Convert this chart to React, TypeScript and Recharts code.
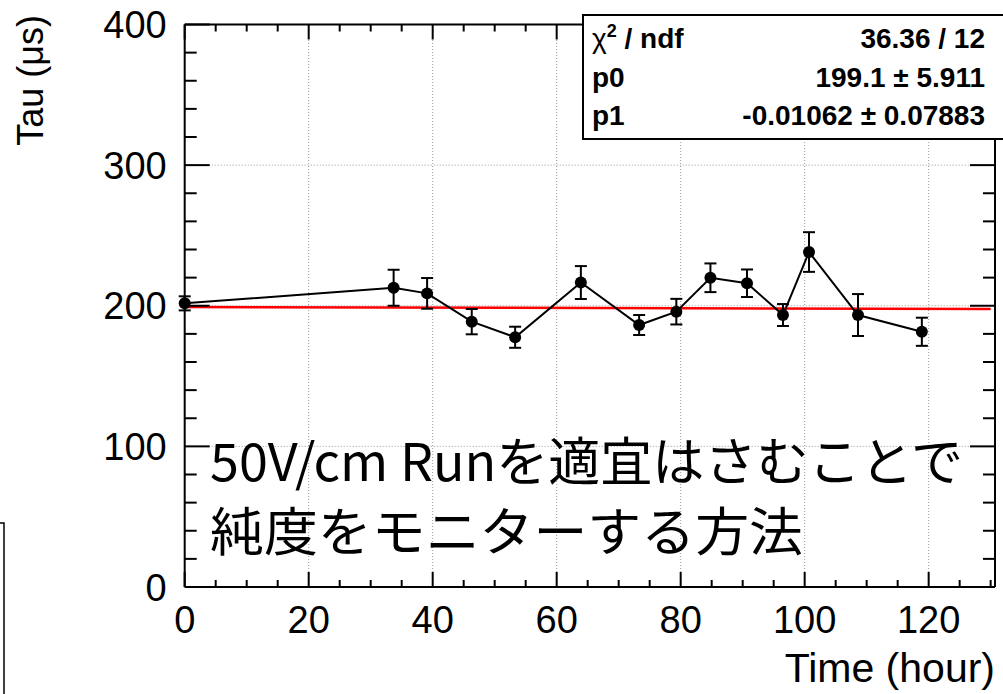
import React from "react";
import {
  ComposedChart,
  Line,
  XAxis,
  YAxis,
  ErrorBar,
  ReferenceLine,
} from "recharts";

// measured points (Time in hours, Tau in microseconds)
const hours = [0, 33.7, 39.1, 46.3, 53.3, 63.9, 73.3, 79.3, 84.8, 90.7, 96.5, 100.7, 108.6, 118.9];
const tauValues = [201.7, 212.8, 208.8, 188.7, 177.6, 216.5, 186.3, 195.8, 219.9, 216.0, 193.4, 238.2, 193.4, 181.5];
const tauErrors = [5, 12.8, 10.9, 9.0, 7.5, 11.7, 7.1, 9.1, 10.2, 9.8, 7.8, 14.1, 14.9, 10.0];

// pol1 fit result
const fitP0 = 199.1;
const fitP1 = -0.01062;
const fitRange = [0, 130];

const xMajorTicks = [0, 20, 40, 60, 80, 100, 120];
const xMinorTicks = [5, 10, 15, 25, 30, 35, 45, 50, 55, 65, 70, 75, 85, 90, 95, 105, 110, 115, 125, 130];
const yMajorTicks = [0, 100, 200, 300, 400];
const yMinorTicks = [20, 40, 60, 80, 120, 140, 160, 180, 220, 240, 260, 280, 320, 340, 360, 380];
const xGrid = [20, 40, 60, 80, 100, 120];
const yGrid = [100, 200, 300];

const statNames = ["χ", "p0", "p1"];
const statValues = ["36.36 / 12", "199.1 ± 5.911", "-0.01062 ± 0.07883"];

const noteLines = ["50V/cm Runを適宜はさむことで", "純度をモニターする方法"];

const data = hours.map((t, i) => ({ t, tau: tauValues[i], err: tauErrors[i] }));

const W = 1003;
const H = 694;
const X_MAX = 130.7;
const Y_MAX = 400;
const FONT = "'Liberation Sans', Arial, Helvetica, sans-serif";

// frame of the pad (page pixels)
const PLOT_LEFT = 184.7;
const PLOT_TOP = 24.5;
const PLOT_RIGHT = 995;
const PLOT_BOTTOM = 587;

// tick anchor points on the four sides of the frame (ROOT ticks point inward)
const bottomTicks = [...xMajorTicks.map((t) => ({ t, tau: 0, len: 15 })), ...xMinorTicks.map((t) => ({ t, tau: 0, len: 7 }))];
const topTicks = [...xMajorTicks.map((t) => ({ t, tau: Y_MAX, len: 15 })), ...xMinorTicks.map((t) => ({ t, tau: Y_MAX, len: 7 }))];
const leftTicks = [...yMajorTicks.map((v) => ({ t: 0, tau: v, len: 25 })), ...yMinorTicks.map((v) => ({ t: 0, tau: v, len: 12 }))];
const rightTicks = [...yMajorTicks.map((v) => ({ t: X_MAX, tau: v, len: 25 })), ...yMinorTicks.map((v) => ({ t: X_MAX, tau: v, len: 12 }))];

const tickDot = (dx: number, dy: number) => (props: any) => {
  const { cx, cy, payload, index } = props;
  const len = payload.len;
  return (
    <line
      key={`td${dx}${dy}${index}`}
      x1={cx}
      y1={cy}
      x2={cx + dx * len}
      y2={cy + dy * len}
      stroke="#000"
      strokeWidth={2}
    />
  );
};

const BottomLabel = (props: any) => {
  const { x, y, payload } = props;
  return (
    <text x={x} y={y + 46} textAnchor="middle" fontFamily={FONT} fontSize={38} fill="#000">
      {payload.value}
    </text>
  );
};

const LeftLabel = (props: any) => {
  const { x, y, payload } = props;
  return (
    <text x={x - 18} y={y + 13.5} textAnchor="end" fontFamily={FONT} fontSize={38} fill="#000">
      {payload.value}
    </text>
  );
};

const axisStroke = { stroke: "#000", strokeWidth: 2 };

const tickSeries = [
  { id: "bottom", rows: bottomTicks, dot: tickDot(0, -1) },
  { id: "top", rows: topTicks, dot: tickDot(0, 1) },
  { id: "left", rows: leftTicks, dot: tickDot(1, 0) },
  { id: "right", rows: rightTicks, dot: tickDot(-1, 0) },
];

export default function App() {
  return (
    <div style={{ position: "absolute", left: 0, top: 0, width: W, height: H, background: "#fff" }}>
      <ComposedChart
        width={W}
        height={H}
        data={data}
        margin={{ top: PLOT_TOP, left: PLOT_LEFT - 1, right: W - PLOT_RIGHT, bottom: H - PLOT_BOTTOM - 1 }}
      >
        <XAxis
          xAxisId="x"
          dataKey="t"
          type="number"
          domain={[0, X_MAX]}
          ticks={xMajorTicks}
          height={1}
          tickSize={0}
          tickMargin={0}
          tick={<BottomLabel />}
          tickLine={false}
          axisLine={axisStroke}
        />
        <YAxis
          yAxisId="y"
          type="number"
          domain={[0, Y_MAX]}
          ticks={yMajorTicks}
          width={1}
          tickSize={0}
          tickMargin={0}
          tick={<LeftLabel />}
          tickLine={false}
          axisLine={axisStroke}
        />

        {xGrid.map((v) => (
          <ReferenceLine key={`gx${v}`} xAxisId="x" yAxisId="y" x={v} stroke="#999" strokeDasharray="1 2" strokeWidth={1} />
        ))}
        {yGrid.map((v) => (
          <ReferenceLine key={`gy${v}`} xAxisId="x" yAxisId="y" y={v} stroke="#999" strokeDasharray="1 2" strokeWidth={1} />
        ))}

        {/* top and right sides of the frame */}
        <ReferenceLine xAxisId="x" yAxisId="y" y={Y_MAX} stroke="#000" strokeWidth={2} ifOverflow="visible" />
        <ReferenceLine xAxisId="x" yAxisId="y" x={X_MAX} stroke="#000" strokeWidth={2} ifOverflow="visible" />

        <ReferenceLine
          xAxisId="x"
          yAxisId="y"
          segment={[
            { x: fitRange[0], y: fitP0 + fitP1 * fitRange[0] },
            { x: fitRange[1], y: fitP0 + fitP1 * fitRange[1] },
          ]}
          stroke="#ff0000"
          strokeWidth={2.5}
        />

        <Line
          xAxisId="x"
          yAxisId="y"
          dataKey="tau"
          stroke="#000"
          strokeWidth={2}
          dot={{ r: 6, fill: "#000", stroke: "#000", strokeWidth: 0 }}
          activeDot={false}
          isAnimationActive={false}
        >
          <ErrorBar dataKey="err" direction="y" width={6} stroke="#000" strokeWidth={2} />
        </Line>

        {/* inward tick marks, drawn as the markers of invisible series */}
        {tickSeries.map((s) => (
          <Line
            key={s.id}
            xAxisId="x"
            yAxisId="y"
            data={s.rows}
            dataKey="tau"
            stroke="none"
            dot={s.dot}
            activeDot={false}
            legendType="none"
            isAnimationActive={false}
          />
        ))}
      </ComposedChart>

      <svg
        width={W}
        height={H}
        style={{ position: "absolute", left: 0, top: 0, pointerEvents: "none" }}
      >
        {/* axis titles */}
        <text
          transform="translate(43,15) rotate(-90)"
          textAnchor="end"
          fontFamily={FONT}
          fontSize={36}
          fill="#000"
        >
          Tau (μs)
        </text>
        <text x={995} y={682} textAnchor="end" fontFamily={FONT} fontSize={41} fill="#000">
          Time (hour)
        </text>

        {/* fit statistics box */}
        <rect x={583} y={15} width={430} height={124} fill="#fff" stroke="#000" strokeWidth={2} />
        {statNames.map((name, i) => (
          <g key={name} fontFamily={FONT} fontSize={28} fontWeight="bold" fill="#000">
            <text x={592} y={48 + i * 38.5}>
              {i === 0 ? (
                <>
                  <tspan fontWeight="normal">{name}</tspan>
                  <tspan dy={-11} fontSize={18}>2</tspan>
                  <tspan dy={11}> / ndf</tspan>
                </>
              ) : (
                name
              )}
            </text>
            <text x={985} y={48 + i * 38.5} textAnchor="end">
              {statValues[i]}
            </text>
          </g>
        ))}

        {/* slide annotation */}
        {noteLines.map((line, i) => (
          <text
            key={line}
            x={210}
            y={481 + i * 70}
            textLength={i === 0 ? 753 : 593}
            lengthAdjust="spacingAndGlyphs"
            fontFamily="'Noto Sans CJK JP', sans-serif"
            fontSize={52}
            fill="#000"
          >
            {line}
          </text>
        ))}

        {/* edge of a neighbouring box */}
        <rect x={-10} y={523} width={14} height={200} fill="none" stroke="#000" strokeWidth={1.5} />
      </svg>
    </div>
  );
}
